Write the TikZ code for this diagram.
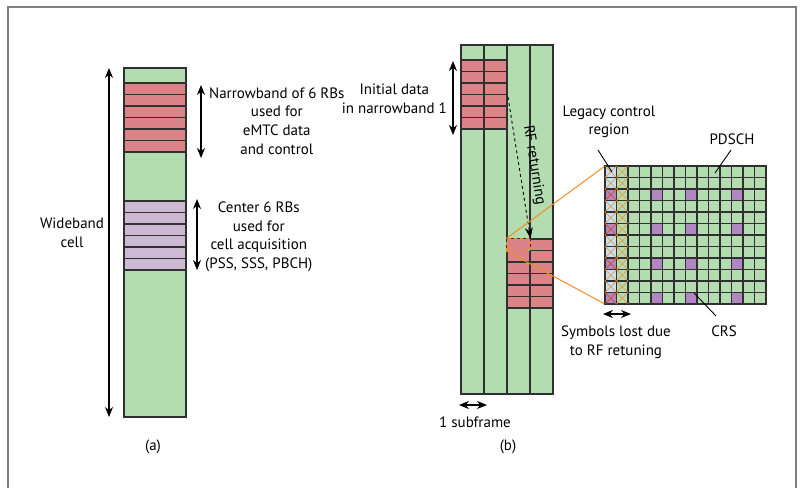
\documentclass[tikz,border=0pt]{standalone}
\usepackage{fontspec}
\setmainfont{PT Sans}
\usetikzlibrary{arrows.meta}
\definecolor{cellgreen}{HTML}{B3DDB0}
\definecolor{cellred}{HTML}{DB8386}
\definecolor{celllilac}{HTML}{CDB9D4}
\definecolor{cellpurple}{HTML}{B186C2}
\definecolor{cellblue}{HTML}{C7E0F2}
\definecolor{lineorange}{HTML}{F28C28}
\definecolor{crossred}{HTML}{C8402F}
\definecolor{cellline}{HTML}{303030}

\begin{document}
\begin{tikzpicture}[x=1pt, y=-1pt,
    cell/.style={draw=cellline, line width=1.2pt},
    span/.style={{Stealth[length=10pt,width=8pt]}-{Stealth[length=10pt,width=8pt]}, line width=1.1pt},
    lbl/.style={align=center, font=\fontsize{15}{18.6}\selectfont, inner sep=0pt},
    pointer/.style={line width=0.9pt}]
    % Frame
    \useasboundingbox (0,0) rectangle (801,488);
    \draw[gray, line width=1.2pt] (8,488) -- (8,7) -- (796,7) -- (796,488);

    % (a) wideband cell with narrowband and center RBs
    \fill[cellgreen] (124,68) rectangle (186,417);
    \foreach \i in {0,...,5} {
        \draw[cell, fill=cellred] (124,{83+11.5*\i}) rectangle ++(62,11.5);
        \draw[cell, fill=celllilac] (124,{201+11.5*\i}) rectangle ++(62,11.5);
    }
    \draw[cell] (124,68) rectangle (186,417);

    \coordinate (wbtop) at (109,68);
    \coordinate (wbbot) at (109,417);
    \draw[span] (wbtop) -- (wbbot);
    \node[lbl] (wideband) at (72,233) {Wideband\\cell};

    \coordinate (nbtop) at (201,85);
    \coordinate (nbbot) at (201,158);
    \draw[span] (nbtop) -- (nbbot);
    \node[lbl, anchor=west] (narrowband) at (209,121) {Narrowband of 6 RBs\\used for\\eMTC data\\and control};

    \coordinate (cttop) at (197,199);
    \coordinate (ctbot) at (197,270);
    \draw[span] (cttop) -- (ctbot);
    \node[lbl, anchor=west] (center) at (205,237) {Center 6 RBs\\used for\\cell acquisition\\(PSS, SSS, PBCH)};

    \node[lbl] (capa) at (153,447) {(a)};

    % (b) subframes with RF retuning
    \fill[cellgreen] (461,45) rectangle (553,394);
    \foreach \i in {0,...,5} {
        \draw[cell, fill=cellred] (461,{60+11.5*\i}) rectangle ++(23,11.5);
        \draw[cell, fill=cellred] (484,{60+11.5*\i}) rectangle ++(23,11.5);
        \draw[cell, fill=cellred] (507,{239+11.5*\i}) rectangle ++(23,11.5);
        \draw[cell, fill=cellred] (530,{239+11.5*\i}) rectangle ++(23,11.5);
    }
    \foreach \x in {461,484,507,530}
        \draw[cell, line width=1.4pt] (\x,45) rectangle ++(23,349);
    \node[draw=lineorange, dashed, line width=1.1pt, fill=cellred, inner sep=0pt,
        minimum width=23pt, minimum height=11.5pt] (lost) at (518.5,244.75) {};

    \coordinate (idtop) at (453,61);
    \coordinate (idbot) at (453,135);
    \draw[span] (idtop) -- (idbot);
    \node[lbl, anchor=east] (initial) at (447,99) {Initial data\\in narrowband 1};

    \coordinate (rfstart) at (508,97);
    \draw[dashed, line width=0.9pt, -{Stealth[length=11pt,width=8pt]}] (rfstart) -- (lost.north east);
    \node[lbl, rotate=-80.8] (rflabel) at (534,165) {RF returning};

    % zoomed grid of one subframe
    \coordinate (gridnw) at (605,166);
    \coordinate (gridsw) at (605,304);
    \draw[lineorange, line width=1pt] (lost.north west) -- (gridnw);
    \draw[lineorange, line width=1pt] (lost.south west) -- (gridsw);
    \foreach \c in {0,...,13}
        \foreach \r in {0,...,11}
            \draw[cell, fill=cellgreen] ({605+11.5*\c},{166+11.5*\r}) rectangle ++(11.5,11.5);
    \foreach \r in {0,...,11}
        \draw[cell, fill=cellblue] (605,{166+11.5*\r}) rectangle ++(11.5,11.5);
    \foreach \r in {2,5,8,11}
        \foreach \c in {0,4,7,11}
            \draw[cell, fill=cellpurple] ({605+11.5*\c},{166+11.5*\r}) rectangle ++(11.5,11.5);
    \foreach \r in {0,...,11}
        \foreach \c in {0,1} {
            \draw[lineorange, line width=0.6pt] ({605+11.5*\c},{166+11.5*\r}) -- ++(11.5,11.5)
                ++(0,-11.5) -- ++(-11.5,11.5);
        }
    \foreach \r in {2,5,8,11}
        \draw[crossred, line width=0.6pt] (605,{166+11.5*\r}) -- ++(11.5,11.5)
            ++(0,-11.5) -- ++(-11.5,11.5);

    \node[lbl] (legacy) at (609,122) {Legacy control\\region};
    \coordinate (legacyend) at (612,172);
    \draw[pointer] (598,150) -- (legacyend);

    \node[lbl] (pdsch) at (732,139) {PDSCH};
    \coordinate (pdschend) at (715,173);
    \draw[pointer] (731,150) -- (pdschend);

    \node[lbl] (crs) at (724,331) {CRS};
    \coordinate (crsend) at (694,293);
    \draw[pointer] (716,316) -- (crsend);

    \coordinate (sylft) at (603,314);
    \coordinate (syrgt) at (631,314);
    \draw[span] (sylft) -- (syrgt);
    \node[lbl] (symbols) at (616,342) {Symbols lost due\\to RF retuning};

    \coordinate (sflft) at (459,405);
    \coordinate (sfrgt) at (487,405);
    \draw[span] (sflft) -- (sfrgt);
    \node[lbl] (subframe) at (475,422) {1 subframe};

    \node[lbl] (capb) at (508,447) {(b)};
\end{tikzpicture}
\end{document}
